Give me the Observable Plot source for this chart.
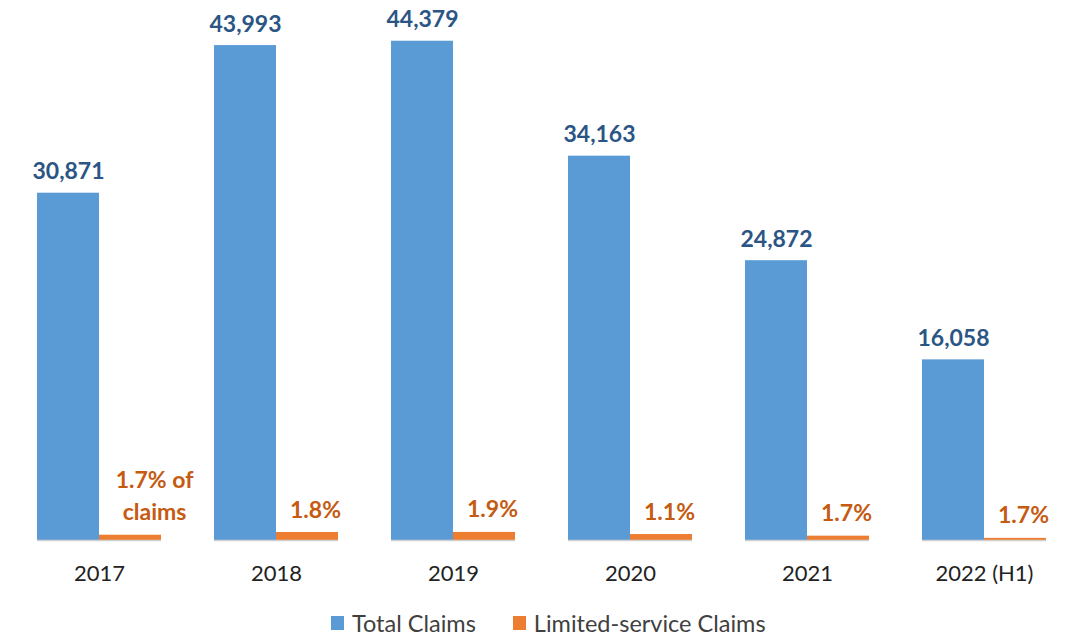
<!DOCTYPE html>
<html>
<head>
<meta charset="utf-8">
<script src="https://cdn.jsdelivr.net/npm/d3@7"></script>
<script src="https://cdn.jsdelivr.net/npm/@observablehq/plot@0.6"></script>
<style>
  html, body { margin: 0; padding: 0; background: #fff; }
  #wrap { position: relative; width: 1065px; height: 638px; overflow: hidden; font-family: Lato, "Open Sans", sans-serif; }
  #chart { position: absolute; left: 0; top: 0; width: 1076px; }
  #chart svg { max-width: none !important; }
  #legend { position: absolute; left: 331px; top: 609px; display: flex; align-items: center; font-size: 23.5px; color: #404040; white-space: nowrap; }
  .sw { display: inline-block; width: 13px; height: 14px; margin-right: 8px; }
  .item { display: flex; align-items: center; margin-right: 37px; }
</style>
</head>
<body>
<div id="wrap">
  <div id="chart"></div>
  <div id="legend"></div>
</div>
<script>
const years = ["2017", "2018", "2019", "2020", "2021", "2022 (H1)"];
const totalClaims = [30871, 43993, 44379, 34163, 24872, 16058];
const limitedClaims = [470, 710, 720, 530, 385, 190];
const totalLabels = ["30,871", "43,993", "44,379", "34,163", "24,872", "16,058"];
const limitedLabels = ["1.7% of\nclaims", "1.8%", "1.9%", "1.1%", "1.7%", "1.7%"];
const seriesNames = ["Total Claims", "Limited-service Claims"];
const seriesColors = ["#5B9BD5", "#ED7D31"];

const rows = [];
years.forEach((y, i) => {
  rows.push({year: y, series: seriesNames[0], value: totalClaims[i], label: totalLabels[i]});
  rows.push({year: y, series: seriesNames[1], value: limitedClaims[i], label: limitedLabels[i]});
});
const totals = rows.filter(d => d.series === seriesNames[0]);
const limited = rows.filter(d => d.series === seriesNames[1]);
const limitedFirst = limited.filter(d => d.year === years[0]);
const limitedRest = limited.filter(d => d.year !== years[0]);

const orangeText = {fx: "year", x: "series", y: "value", text: "label", lineAnchor: "bottom", dy: -15,
  lineHeight: 1.38, fill: "#C55A11", fontWeight: "bold", fontSize: 23};

const chart = Plot.plot({
  width: 1076,
  height: 595,
  marginLeft: 8,
  marginRight: 0,
  marginTop: 0,
  marginBottom: 55,
  style: {fontFamily: "Lato, 'Open Sans', sans-serif", background: "#fff", overflow: "visible", maxWidth: "none"},
  fx: {domain: years, paddingInner: 0.297, paddingOuter: 0.152, label: null},
  x: {domain: seriesNames, padding: 0, axis: null},
  y: {domain: [0, 48000], axis: null},
  color: {domain: seriesNames, range: seriesColors},
  marks: [
    Plot.barY(rows, {fx: "year", x: "series", y: "value", fill: "series"}),
    Plot.ruleY([0], {stroke: "#d0d0d0", strokeWidth: 1.5}),
    Plot.text(totals, {fx: "year", x: "series", y: "value", text: "label", lineAnchor: "bottom", dy: -14,
      fill: "#2B5584", fontWeight: "bold", fontSize: 23}),
    Plot.text(limitedFirst, {...orangeText, dx: 24}),
    Plot.text(limitedRest, {...orangeText, dx: 8}),
    Plot.axisFx({anchor: "bottom", tickSize: 0, tickPadding: 25, fontSize: 22, label: null, color: "#222"})
  ]
});
document.getElementById("chart").appendChild(chart);

const legend = document.getElementById("legend");
seriesNames.forEach((name, i) => {
  const item = document.createElement("div");
  item.className = "item";
  const sw = document.createElement("span");
  sw.className = "sw";
  sw.style.background = seriesColors[i];
  item.appendChild(sw);
  item.appendChild(document.createTextNode(name));
  legend.appendChild(item);
});
</script>
</body>
</html>
